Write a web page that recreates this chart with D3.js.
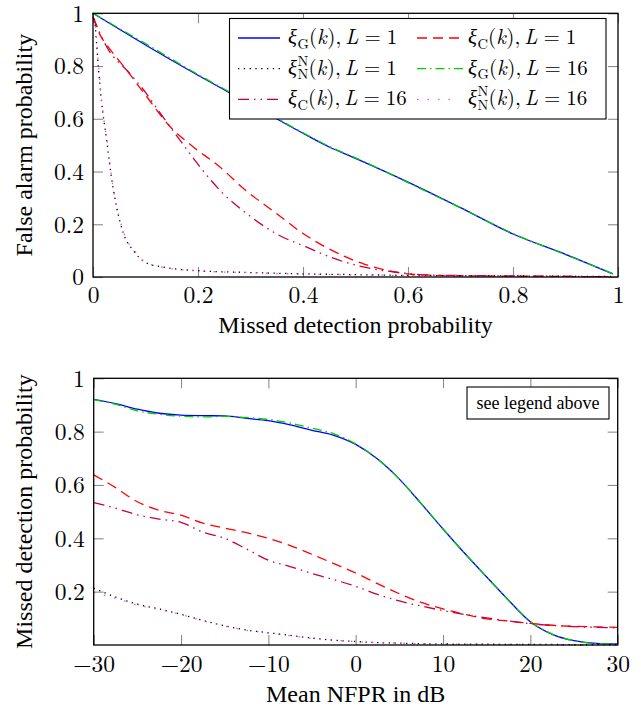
<!DOCTYPE html>
<html>
<head>
<meta charset="utf-8">
<script src="https://cdn.jsdelivr.net/npm/d3@7"></script>
<style>
  body { margin: 0; background: #fff; }
</style>
</head>
<body>
<div id="chart"></div>
<script>
// Top plot: false alarm vs missed detection, [missed, falseAlarm] pairs
var rocGauss1 = [[0,1],[0.1,0.88],[0.2,0.765],[0.3,0.655],[0.4,0.545],[0.45,0.493],[0.5,0.45],[0.6,0.36],[0.7,0.263],[0.8,0.163],[0.9,0.086],[0.99,0.012]]
var rocCauchy1 = [[0,0.985],[0.013,0.92],[0.03,0.87],[0.058,0.80],[0.1,0.69],[0.147,0.57],[0.19,0.495],[0.24,0.42],[0.29,0.33],[0.35,0.24],[0.4,0.165],[0.45,0.106],[0.515,0.05],[0.578,0.018],[0.64,0.007],[0.75,0.004],[0.9,0.002],[0.99,0.001]]
var rocNp1 = [[0,1],[0.003,0.975],[0.01,0.80],[0.016,0.67],[0.026,0.52],[0.035,0.38],[0.045,0.265],[0.058,0.165],[0.077,0.10],[0.1,0.055],[0.135,0.037],[0.2,0.024],[0.3,0.017],[0.4,0.012],[0.5,0.009],[0.6,0.006],[0.8,0.004],[0.99,0.002]]
var rocGauss16 = [[0,1],[0.1,0.885],[0.2,0.768],[0.3,0.658],[0.4,0.547],[0.45,0.495],[0.5,0.452],[0.6,0.358],[0.7,0.262],[0.8,0.165],[0.9,0.085],[0.99,0.013]]
var rocCauchy16 = [[0,0.987],[0.026,0.873],[0.07,0.772],[0.1,0.70],[0.115,0.658],[0.166,0.518],[0.204,0.417],[0.248,0.316],[0.293,0.24],[0.35,0.163],[0.407,0.113],[0.451,0.076],[0.515,0.038],[0.578,0.018],[0.65,0.007],[0.8,0.004],[0.99,0.001]]
var rocNp16 = [[0,0.99],[0.004,0.96],[0.011,0.79],[0.017,0.66],[0.027,0.51],[0.036,0.37],[0.046,0.26],[0.06,0.16],[0.08,0.097],[0.1,0.056],[0.135,0.036],[0.2,0.023],[0.3,0.016],[0.4,0.011],[0.5,0.008],[0.6,0.006],[0.8,0.004],[0.99,0.002]]

// Bottom plot: missed detection vs mean NFPR (dB)
var nfprDb = [-30,-27.5,-25,-22.5,-20,-17.5,-15,-12.5,-10,-7.5,-5,-2.5,0,2.5,5,7.5,10,12.5,15,17.5,20,22.5,25,27.5,30]
var mdGauss1 = [0.921,0.905,0.884,0.869,0.862,0.860,0.859,0.850,0.841,0.825,0.805,0.786,0.752,0.697,0.622,0.530,0.435,0.343,0.255,0.168,0.087,0.040,0.016,0.006,0.004]
var mdCauchy1 = [0.638,0.590,0.537,0.505,0.487,0.457,0.438,0.421,0.400,0.373,0.340,0.305,0.270,0.230,0.192,0.160,0.135,0.115,0.098,0.090,0.081,0.074,0.070,0.068,0.066]
var mdNp1 = [0.213,0.180,0.153,0.135,0.115,0.092,0.072,0.056,0.046,0.036,0.026,0.018,0.013,0.009,0.007,0.005,0.004,0.003,0.003,0.002,0.002,0.002,0.001,0.001,0.001]
var mdGauss16 = [0.920,0.903,0.878,0.865,0.858,0.855,0.857,0.853,0.846,0.832,0.813,0.792,0.754,0.698,0.622,0.530,0.435,0.343,0.255,0.168,0.088,0.041,0.016,0.006,0.004]
var mdCauchy16 = [0.534,0.513,0.488,0.472,0.460,0.423,0.400,0.360,0.318,0.294,0.268,0.245,0.220,0.190,0.165,0.146,0.129,0.114,0.102,0.090,0.080,0.073,0.069,0.066,0.064]
var mdNp16 = [0.197,0.175,0.150,0.133,0.114,0.091,0.071,0.055,0.045,0.035,0.025,0.018,0.013,0.009,0.007,0.005,0.004,0.003,0.003,0.002,0.002,0.002,0.001,0.001,0.001]

var topXTicks = [0, 0.2, 0.4, 0.6, 0.8, 1]
var topYTicks = [0, 0.2, 0.4, 0.6, 0.8, 1]
var botXTicks = [-30, -20, -10, 0, 10, 20, 30]
var botYTicks = [0.2, 0.4, 0.6, 0.8, 1]

// styles, same order as legend
var styles = [
  {color: "#0000ff", dash: null},                 // xi_G L=1
  {color: "#ff0000", dash: "10,6"},               // xi_C L=1
  {color: "#000000", dash: "1.3,4.5"},            // xi_N L=1
  {color: "#00cc00", dash: "9,4,1.5,4"},          // xi_G L=16
  {color: "#c8003c", dash: "11,5,1.5,5,1.5,5"},   // xi_C L=16
  {color: "#ff4fc8", dash: "1.5,9"}               // xi_N L=16
]

var mathFont = "'Latin Modern Roman', 'Liberation Serif', serif"
var textFont = "'Liberation Serif', 'Times New Roman', serif"

var W = 641, H = 711
var svg = d3.select("#chart").append("svg").attr("width", W).attr("height", H)

var fs = 23.5

function drawPanel(p) {
  var x = d3.scaleLinear().domain(p.xDom).range([p.left, p.right])
  var y = d3.scaleLinear().domain(p.yDom).range([p.bottom, p.top])
  var g = svg.append("g")
  var fmt = d3.format("")

  // ticks on all four sides, pointing in
  function axis(a, tr, ticks, lab) {
    var ax = g.append("g").attr("transform", tr)
      .call(a.tickValues(ticks).tickSizeInner(-10).tickSizeOuter(0).tickFormat(lab ? fmt : ""))
    ax.select(".domain").remove()
    ax.selectAll("line").attr("stroke", "#8c8c8c").attr("stroke-width", 1.1)
    ax.selectAll("text").attr("fill", "#000").style("font-size", fs + "px")
      .style("font-family", mathFont)
    return ax
  }
  var ab = axis(d3.axisBottom(x), "translate(0," + p.bottom + ")", p.xTicks, true)
  ab.selectAll("text").attr("y", p.xLabY).attr("dy", null)
  axis(d3.axisTop(x), "translate(0," + p.top + ")", p.xTicks, false)
  var al = axis(d3.axisLeft(y), "translate(" + p.left + ",0)", p.yTicks, true)
  al.selectAll("text").attr("x", -9).attr("dy", "0.33em")
  axis(d3.axisRight(y), "translate(" + p.right + ",0)", p.yTicks, false)

  var line = d3.line().x(d => x(d[0])).y(d => y(d[1])).curve(d3.curveMonotoneX)
  p.series.forEach(function(s, i) {
    g.append("path").datum(s)
      .attr("d", line)
      .attr("fill", "none")
      .attr("stroke", styles[i].color)
      .attr("stroke-width", 1.3)
      .attr("stroke-dasharray", styles[i].dash)
  })

  g.append("rect")
    .attr("x", p.left).attr("y", p.top)
    .attr("width", p.right - p.left).attr("height", p.bottom - p.top)
    .attr("fill", "none").attr("stroke", "#000").attr("stroke-width", 1.3)

  svg.append("text").attr("x", (p.left + p.right) / 2).attr("y", p.xTitleY)
    .attr("text-anchor", "middle").style("font-family", textFont)
    .style("font-size", "24px").text(p.xTitle)
  svg.append("text")
    .attr("transform", "translate(32," + ((p.top + p.bottom) / 2) + ") rotate(-90)")
    .attr("text-anchor", "middle").style("font-family", textFont)
    .style("font-size", "24px").text(p.yTitle)
}

var zip = function(xs, ys) { return xs.map((v, i) => [v, ys[i]]) }

drawPanel({
  left: 93, right: 618, top: 13.3, bottom: 277,
  xDom: [0, 1], yDom: [0, 1],
  xTicks: topXTicks, yTicks: topYTicks, xLabY: 26,
  series: [rocGauss1, rocCauchy1, rocNp1, rocGauss16, rocCauchy16, rocNp16],
  xTitle: "Missed detection probability", xTitleY: 333,
  yTitle: "False alarm probability"
})

drawPanel({
  left: 93.7, right: 617.7, top: 378.3, bottom: 645,
  xDom: [-30, 30], yDom: [0, 1],
  xTicks: botXTicks, yTicks: botYTicks, xLabY: 27,
  series: [mdGauss1, mdCauchy1, mdNp1, mdGauss16, mdCauchy16, mdNp16].map(v => zip(nfprDb, v)),
  xTitle: "Mean NFPR in dB", xTitleY: 702,
  yTitle: "Missed detection probability"
})

// Legend
var leg = svg.append("g")
leg.append("rect").attr("x", 229.5).attr("y", 18.5).attr("width", 376.5).attr("height", 100.5)
  .attr("fill", "#fff").attr("stroke", "#000").attr("stroke-width", 1.1)

var lfs = 21
function piece(g, x, y, t, opt) {
  opt = opt || {}
  var el = g.append("text").attr("x", x).attr("y", y + (opt.dy || 0))
    .style("font-family", mathFont)
    .style("font-size", (opt.size || lfs) + "px")
    .style("font-style", opt.italic ? "italic" : "normal")
    .style("white-space", "pre")
    .text(t)
  return el.node().getComputedTextLength()
}
function mathLabel(g, x, y, kind, L) {
  x += piece(g, x, y, "\u03be", {italic: true}) + 0.5
  if (kind == "N") {
    var w1 = piece(g, x, y, "N", {size: 14.5, dy: 4.5})
    var w2 = piece(g, x, y, "N", {size: 14.5, dy: -9})
    x += Math.max(w1, w2)
  } else {
    x += piece(g, x, y, kind, {size: 14.5, dy: 4.5})
  }
  x += piece(g, x, y, "(")
  x += piece(g, x, y, "k", {italic: true}) + 0.5
  x += piece(g, x, y, "),") + 4
  x += piece(g, x, y, "L", {italic: true}) + 6
  x += piece(g, x, y, "=") + 6
  piece(g, x, y, String(L))
}

var legRows = [
  [0, "G", 1, 0], [1, "C", 1, 1],
  [2, "N", 1, 0], [3, "G", 16, 1],
  [4, "C", 16, 0], [5, "N", 16, 1]
]
legRows.forEach(function(r, i) {
  var row = Math.floor(i / 2)
  var base = 44 + row * 30.7
  var lx = r[3] == 0 ? 238 : 417
  var tx = r[3] == 0 ? 288 : 468
  leg.append("line").attr("x1", lx).attr("x2", lx + (r[0] == 3 ? 46 : 42))
    .attr("y1", base - 6).attr("y2", base - 6)
    .attr("stroke", styles[r[0]].color).attr("stroke-width", 1.3)
    .attr("stroke-dasharray", styles[r[0]].dash)
  mathLabel(leg, tx, base, r[1], r[2])
})

// "see legend above" note
svg.append("rect").attr("x", 467).attr("y", 387).attr("width", 142).attr("height", 32)
  .attr("fill", "#fff").attr("stroke", "#000").attr("stroke-width", 1.1)
svg.append("text").attr("x", 538).attr("y", 409).attr("text-anchor", "middle")
  .style("font-family", textFont).style("font-size", "18px").text("see legend above")
</script>
</body>
</html>
